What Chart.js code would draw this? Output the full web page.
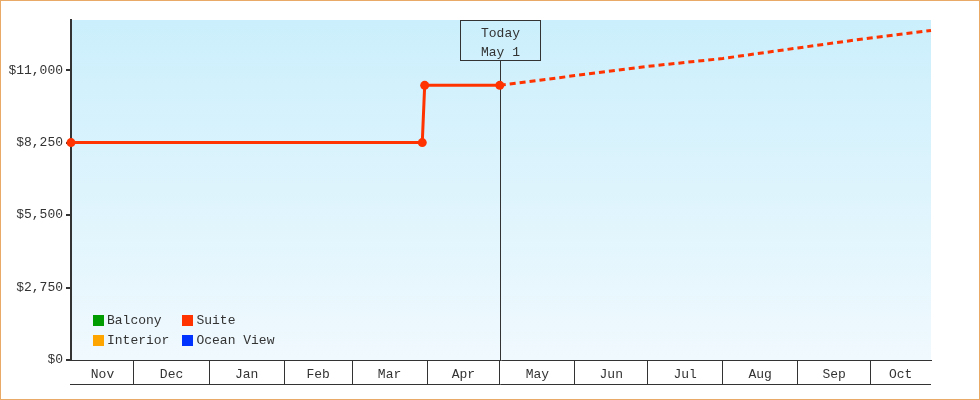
<!DOCTYPE html>
<html>
<head>
<meta charset="utf-8">
<title>Suite price</title>
<script src="https://cdn.jsdelivr.net/npm/chart.js@4.4.1/dist/chart.umd.min.js"></script>
<style>
  html, body { margin: 0; padding: 0; background: #fff; }
  #wrap { position: relative; width: 980px; height: 400px; }
  #frame { position: absolute; left: 0; top: 0; width: 980px; height: 400px; box-sizing: border-box; border: 1px solid #e9a967; pointer-events: none; }
  #legend { position: absolute; left: 93px; top: 310px; display: grid; grid-template-columns: auto auto; column-gap: 13px; font: 13px 'Liberation Mono', monospace; color: #333; }
  #legend .item { display: flex; align-items: center; height: 20px; }
  #legend .sw { width: 11px; height: 11px; margin-right: 3px; }
</style>
</head>
<body>
<div id="wrap">
  <canvas id="priceChart"></canvas>
  <div id="legend"></div>
  <div id="frame"></div>
</div>
<script>
const monthLabels = ['Nov', 'Dec', 'Jan', 'Feb', 'Mar', 'Apr', 'May', 'Jun', 'Jul', 'Aug', 'Sep', 'Oct'];
const monthStarts = ['2022-11-01', '2022-12-01', '2023-01-01', '2023-02-01', '2023-03-01', '2023-04-01',
                     '2023-05-01', '2023-06-01', '2023-07-01', '2023-08-01', '2023-09-01', '2023-10-01', '2023-11-01'];
const rangeStart = '2022-11-05';
const rangeEnd = '2023-10-26';
const todayDate = '2023-05-01';
const todayText = ['Today', 'May 1'];

// Suite: history up to today, forecast afterwards
const suiteDates = ['2022-11-05', '2023-03-30', '2023-03-31', '2023-05-01', '2023-06-01',
                    '2023-07-01', '2023-08-01', '2023-09-01', '2023-10-01', '2023-10-26'];
const suitePrices = [8250, 8250, 10420, 10420, 10790, 11140, 11440, 11840, 12220, 12500];

const yTicks = [0, 2750, 5500, 8250, 11000];
const yMax = 12900;

const cabinNames = ['Balcony', 'Suite', 'Interior', 'Ocean View'];
const cabinColors = ['#009c00', '#ff3300', '#ffa500', '#0033ff'];

const day = s => Date.parse(s + 'T00:00:00Z') / 86400000;
const today = day(todayDate);
const xMin = day(rangeStart), xMax = day(rangeEnd);
const font = { family: "'Liberation Mono', monospace", size: 13 };
const ink = '#333';

// month separators + centered month names
const xTicks = [];
monthLabels.forEach((m, i) => {
    const a = day(monthStarts[i]), b = day(monthStarts[i + 1]);
    if (a > xMin) xTicks.push({ value: a, label: '' });
    xTicks.push({ value: (Math.max(a, xMin) + Math.min(b, xMax)) / 2, label: m });
});

const bgPlugin = {
    id: 'bg',
    beforeDraw(chart) {
        const { ctx, chartArea: a } = chart;
        const g = ctx.createLinearGradient(0, a.top, 0, a.bottom);
        g.addColorStop(0, '#cbeffc');
        g.addColorStop(1, '#f0f9fe');
        ctx.save();
        ctx.fillStyle = g;
        ctx.fillRect(a.left, a.top, a.right - a.left, a.bottom - a.top);
        ctx.restore();
    }
};

const todayPlugin = {
    id: 'today',
    beforeDatasetsDraw(chart) {
        const { ctx, chartArea: a } = chart;
        const x = Math.round(chart.scales.x.getPixelForValue(today)) + 0.5;
        const top = a.top + 0.5;
        ctx.save();
        ctx.strokeStyle = ink;
        ctx.lineWidth = 1;
        ctx.strokeRect(x - 40, top, 80, 40);
        ctx.beginPath();
        ctx.moveTo(x, top + 40);
        ctx.lineTo(x, a.bottom);
        ctx.stroke();
        ctx.fillStyle = ink;
        ctx.font = "13px 'Liberation Mono', monospace";
        ctx.textAlign = 'center';
        ctx.textBaseline = 'middle';
        ctx.fillText(todayText[0], x, top + 13);
        ctx.fillText(todayText[1], x, top + 32);
        ctx.restore();
    },
    afterDraw(chart) {
        const { ctx, chartArea: a } = chart;
        const y = Math.round(chart.scales.x.bottom) - 0.5;
        ctx.save();
        ctx.strokeStyle = ink;
        ctx.lineWidth = 1;
        ctx.beginPath();
        ctx.moveTo(a.left - 1, y);
        ctx.lineTo(a.right, y);
        ctx.stroke();
        ctx.restore();
    }
};

const datasets = cabinNames.map((name, i) => {
    const ds = { label: name, data: [], borderColor: cabinColors[i], backgroundColor: cabinColors[i] };
    if (name === 'Suite') {
        ds.data = suiteDates.map((d, k) => ({ x: day(d), y: suitePrices[k] }));
        Object.assign(ds, {
            borderWidth: 3,
            tension: 0,
            clip: false,
            pointRadius: ctx => (ctx.raw && ctx.raw.x > today ? 0 : 4.5),
            pointBorderWidth: 0,
            pointBackgroundColor: cabinColors[i],
            segment: { borderDash: ctx => (ctx.p0.parsed.x >= today ? [6, 4] : undefined) }
        });
    }
    return ds;
});

const chart = new Chart(document.getElementById('priceChart'), {
    type: 'line',
    data: { datasets: datasets },
    options: {
        responsive: true,
        maintainAspectRatio: false,
        animation: false,
        layout: { padding: { left: 8, top: 20, right: 49, bottom: 15 } },
        plugins: { legend: { display: false }, tooltip: { enabled: false } },
        scales: {
            x: {
                type: 'linear',
                min: xMin,
                max: xMax,
                afterBuildTicks: s => { s.ticks = xTicks.map(t => ({ value: t.value })); },
                afterFit: s => { s.height = 25; },
                ticks: {
                    autoSkip: false, maxRotation: 0, padding: -18, font: font, color: ink,
                    callback: (v, i) => xTicks[i].label
                },
                grid: {
                    drawOnChartArea: false, tickLength: 25, lineWidth: 1,
                    color: ctx => (xTicks[ctx.index] && xTicks[ctx.index].label === '' ? ink : 'rgba(0,0,0,0)')
                },
                border: { color: ink, width: 1 }
            },
            y: {
                min: 0,
                max: yMax,
                afterBuildTicks: s => { s.ticks = yTicks.map(v => ({ value: v })); },
                afterFit: s => { s.width = 63; },
                ticks: { padding: 3, font: font, color: ink, callback: v => '$' + v.toLocaleString('en-US') },
                grid: { drawOnChartArea: false, tickLength: 5, lineWidth: 2, color: ink },
                border: { color: ink, width: 2 }
            }
        }
    },
    plugins: [bgPlugin, todayPlugin]
});

// legend inside the plot, built from the chart's datasets
const legendBox = document.getElementById('legend');
chart.data.datasets.forEach(ds => {
    const item = document.createElement('div');
    item.className = 'item';
    const sw = document.createElement('span');
    sw.className = 'sw';
    sw.style.background = ds.borderColor;
    const txt = document.createElement('span');
    txt.textContent = ds.label;
    item.appendChild(sw);
    item.appendChild(txt);
    legendBox.appendChild(item);
});
</script>
</body>
</html>
